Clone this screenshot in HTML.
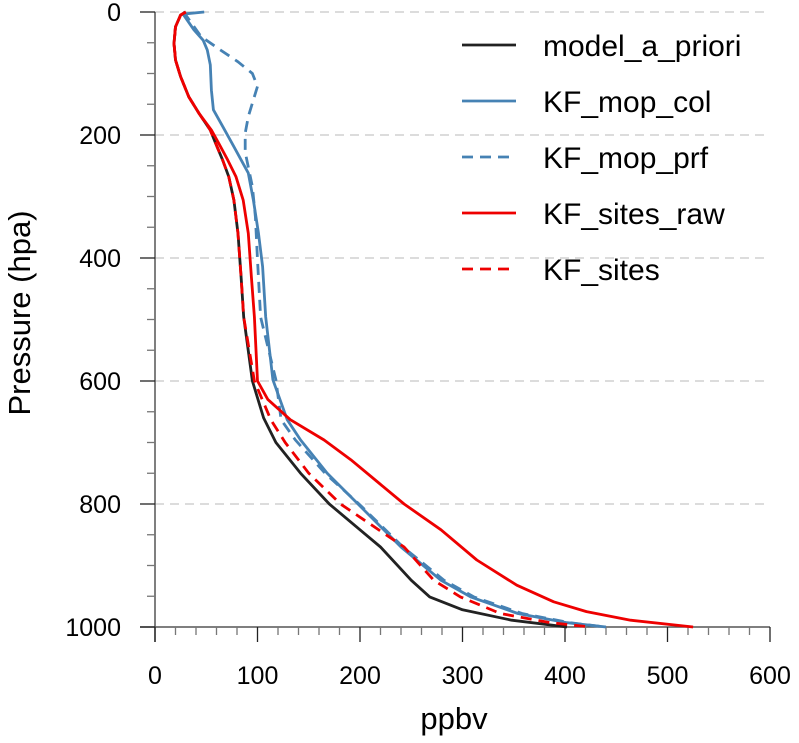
<!DOCTYPE html>
<html><head><meta charset="utf-8"><style>
html,body{margin:0;padding:0;background:#fff;}
svg{display:block;font-family:"Liberation Sans",sans-serif;}
</style></head><body>
<svg id="chart" width="799" height="743" viewBox="0 0 799 743">
<g id="grid"></g>
<g id="axes"></g>
<g id="series"></g>
<text x="454" y="729" font-size="31" text-anchor="middle" fill="#000">ppbv</text>
<text transform="translate(30,313) rotate(-90)" font-size="31" text-anchor="middle" fill="#000">Pressure (hpa)</text>
<g id="legend"></g>
</svg>
<script>
const xTicks=[0,100,200,300,400,500,600];
const yTicks=[0,200,400,600,800,1000];
const seriesNames=["model_a_priori","KF_mop_col","KF_mop_prf","KF_sites_raw","KF_sites"];
const aprioriP=[0,5,24,51,78,105,138,165,192,213,241,268,306,360,431,496,600,660,700,750,800,842,870,924,951,972,989,1000];
const aprioriV=[30,25,20,18.5,20,25,33,43,54,59,66,72,77,81,84,86.5,95,106,118,142,170,200,220,250,268,300,348,402];
const mopColP=[0,3,5,29,46,62,86,127,159,186,219,262,306,360,414,496,598,663,696,750,800,870,924,951,978,993,1000];
const mopColV=[48,30,28,38,47,51,54,55,57,66,77,91,96,101,105,108,115,129,142,168,198,240,279,308,354,402,440];
const mopPrfP=[0,5,40,62,81,100,121,148,170,197,228,252,284,333,403,496,598,663,696,750,800,870,924,951,978,993,1000];
const mopPrfV=[27,30,45,64,81,95,100,95,91,88,88,91,95,98,100,103,118,123,137,166,199,242,282,311,358,405,439];
const sitesRawP=[0,5,24,51,78,105,138,165,192,213,241,268,306,360,431,496,600,630,663,696,728,800,842,891,932,959,975,989,1000];
const sitesRawV=[30,25,20,18.5,20,25,33,43,55,62,71,79,86,91,94,97,100,110,132,165,191,243,279,314,353,389,421,464,525];
const sitesP=[0,5,24,51,78,105,138,165,192,213,241,268,306,360,431,496,600,663,700,750,800,870,924,951,978,993,1000];
const sitesV=[30,25,20,18.5,20,25,33,43,54,59,66,72,77,81,84,86.5,97,113,127,150,181,243,272,298,337,386,425];

const X0=155,X1=770,Y0=12,Y1=627;
const sx=v=>X0+(v/600)*(X1-X0);
const sy=p=>Y0+(p/1000)*(Y1-Y0);
const NS="http://www.w3.org/2000/svg";
function mk(tag,attrs,parent){const e=document.createElementNS(NS,tag);for(const k in attrs)e.setAttribute(k,attrs[k]);parent.appendChild(e);return e;}
const grid=document.getElementById('grid'),axes=document.getElementById('axes'),series=document.getElementById('series'),legend=document.getElementById('legend');

yTicks.forEach(p=>{if(p<1000){const g=mk('line',{x1:X0,x2:X1,y1:sy(p),y2:sy(p),stroke:'#c8c8c8','stroke-width':1.3,'stroke-dasharray':'9,6'},grid);

}});

const ax=mk('line',{x1:140,x2:X1,y1:Y1,y2:Y1,stroke:'#555','stroke-width':1.5},axes);


const ay=mk('line',{x1:X0,x2:X0,y1:Y0,y2:642,stroke:'#555','stroke-width':1.5},axes);


for(let v=0;v<=600;v+=20){const major=v%100===0;mk('line',{x1:sx(v),x2:sx(v),y1:Y1,y2:Y1+(major?15:8),stroke:major?'#222':'#777','stroke-width':1.3},axes);}
for(let p=0;p<=1000;p+=50){const major=p%200===0;mk('line',{x1:X0-(major?15:8),x2:X0,y1:sy(p),y2:sy(p),stroke:major?'#222':'#777','stroke-width':1.3},axes);}
xTicks.forEach(v=>{const t=mk('text',{x:sx(v),y:684,'font-size':25,'text-anchor':'middle',fill:'#000'},axes);t.textContent=v;

});
yTicks.forEach(p=>{const t=mk('text',{x:121,y:sy(p)+9,'font-size':25,'text-anchor':'end',fill:'#000'},axes);t.textContent=p;

});

const defs=[
 {P:aprioriP,V:aprioriV,c:'#222',d:''},
 {P:mopColP,V:mopColV,c:'#4682b4',d:''},
 {P:mopPrfP,V:mopPrfV,c:'#4682b4',d:'11,7'},
 {P:sitesRawP,V:sitesRawV,c:'#ee0000',d:''},
 {P:sitesP,V:sitesV,c:'#ee0000',d:'11,7'}
];
defs.forEach((s,i)=>{
 const pts=s.P.map((p,j)=>sx(s.V[j]).toFixed(1)+','+sy(p).toFixed(1)).join(' ');
 const l=mk('polyline',{points:pts,fill:'none',stroke:s.c,'stroke-width':2.8,'stroke-linejoin':'round','stroke-dasharray':s.d},series);
 
 
 const ly=45+i*56;
 const ll=mk('line',{x1:462,x2:516,y1:ly,y2:ly,stroke:s.c,'stroke-width':2.8,'stroke-dasharray':s.d},legend);
 
 
 const lt=mk('text',{x:543,y:ly+11,'font-size':30,fill:'#000'},legend);
 lt.textContent=seriesNames[i];
 
 
});
</script>
</body></html>
